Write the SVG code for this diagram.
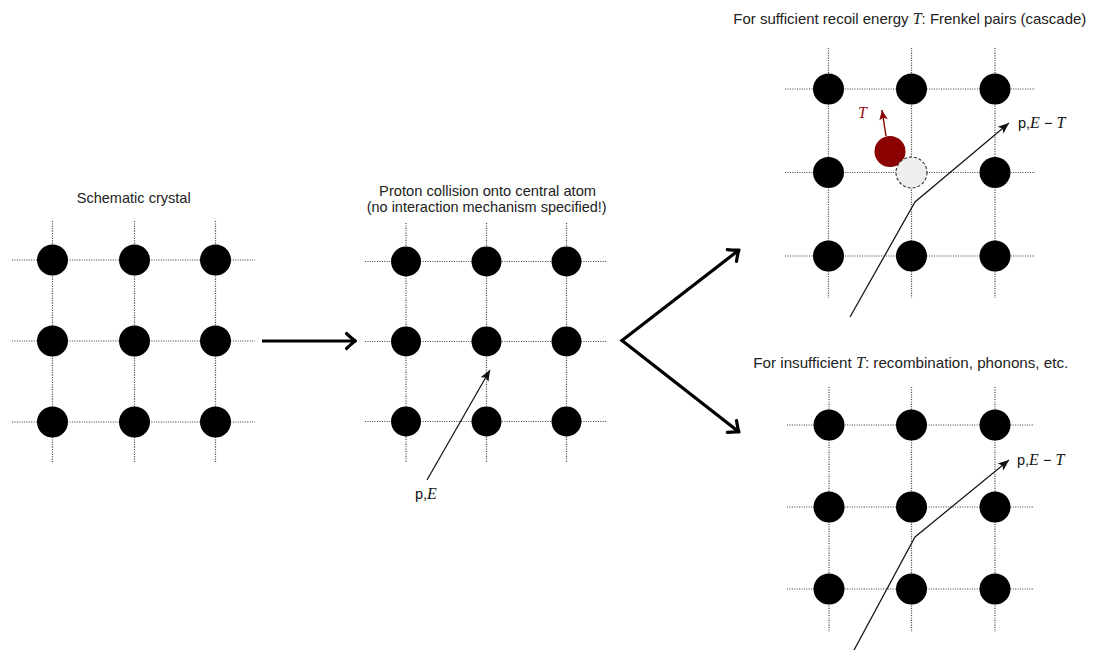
<svg xmlns="http://www.w3.org/2000/svg" width="1094" height="650" viewBox="0 0 1094 650">
  <style>
    .bg { fill: #ffffff; }
    .grid { stroke: #4a4a4a; stroke-width: 1.2; stroke-dasharray: 1.1 1.3; fill: none; }
    .atom { fill: #000000; }
    .title { font-family: "Liberation Sans", Arial, sans-serif; font-size: 15px; fill: #222222; }
    .math { font-family: "Liberation Serif", "Times New Roman", serif; font-style: italic; }
    .lbl { font-family: "Liberation Sans", Arial, sans-serif; font-size: 14.5px; fill: #111111; }
    .track { stroke: #1a1a1a; stroke-width: 1.3; fill: none; }
    .flow { stroke: #000000; stroke-width: 3.2; fill: none; stroke-linejoin: miter; }
  </style>
  <defs>
    <!-- open chevron head used by the thick process arrows -->
    <marker id="chev" markerUnits="userSpaceOnUse" viewBox="-12 -10 14 20" refX="0" refY="0" markerWidth="14" markerHeight="20" orient="auto-start-reverse" overflow="visible">
      <path d="M-9,-7.5 Q-3,-1.8 0,0 Q-3,1.8 -9,7.5" stroke="#000" stroke-width="3.2" fill="none" stroke-linecap="round" stroke-linejoin="round"/>
    </marker>
    <!-- filled head for particle tracks -->
    <marker id="tip" markerUnits="userSpaceOnUse" viewBox="-12 -6 13 12" refX="0" refY="0" markerWidth="13" markerHeight="12" orient="auto" overflow="visible">
      <path d="M-11,-4.5 L0,0 L-11,4.5 L-8.5,0 Z" fill="#111"/>
    </marker>
    <marker id="tipRed" markerUnits="userSpaceOnUse" viewBox="-10 -5 11 10" refX="0" refY="0" markerWidth="11" markerHeight="10" orient="auto" overflow="visible">
      <path d="M-10,-4.3 L0,0 L-10,4.3 L-7.5,0 Z" fill="#8b0000"/>
    </marker>
  </defs>

  <rect class="bg" x="0" y="0" width="1094" height="650"/>

  <!-- Panel 1: undisturbed lattice -->
  <g id="crystal">
    <text class="title" x="133.7" y="203" text-anchor="middle" textLength="114" lengthAdjust="spacingAndGlyphs">Schematic crystal</text>
    <g class="grid">
      <line x1="12" y1="260" x2="255" y2="260"/>
      <line x1="12" y1="341" x2="255" y2="341"/>
      <line x1="12" y1="422" x2="255" y2="422"/>
      <line x1="52.5" y1="221" x2="52.5" y2="463"/>
      <line x1="134.5" y1="221" x2="134.5" y2="463"/>
      <line x1="215.5" y1="221" x2="215.5" y2="463"/>
    </g>
    <g class="atom">
      <circle cx="52.5" cy="260" r="15.5"/><circle cx="134.5" cy="260" r="15.5"/><circle cx="215.5" cy="260" r="15.5"/>
      <circle cx="52.5" cy="341" r="15.5"/><circle cx="134.5" cy="341" r="15.5"/><circle cx="215.5" cy="341" r="15.5"/>
      <circle cx="52.5" cy="422" r="15.5"/><circle cx="134.5" cy="422" r="15.5"/><circle cx="215.5" cy="422" r="15.5"/>
    </g>
  </g>

  <!-- Panel 2: incoming proton -->
  <g id="collision">
    <text class="title" x="487.6" y="196" text-anchor="middle" textLength="217" lengthAdjust="spacingAndGlyphs">Proton collision onto central atom</text>
    <text class="title" x="486.7" y="212" text-anchor="middle" textLength="240" lengthAdjust="spacingAndGlyphs">(no interaction mechanism specified!)</text>
    <g class="grid">
      <line x1="365" y1="261.5" x2="607" y2="261.5"/>
      <line x1="365" y1="341.5" x2="607" y2="341.5"/>
      <line x1="365" y1="421.5" x2="607" y2="421.5"/>
      <line x1="406" y1="223" x2="406" y2="462"/>
      <line x1="486.5" y1="223" x2="486.5" y2="462"/>
      <line x1="566.5" y1="223" x2="566.5" y2="462"/>
    </g>
    <g class="atom">
      <circle cx="406" cy="261.5" r="15"/><circle cx="486.5" cy="261.5" r="15"/><circle cx="566.5" cy="261.5" r="15"/>
      <circle cx="406" cy="341.5" r="15"/><circle cx="486.5" cy="341.5" r="15"/><circle cx="566.5" cy="341.5" r="15"/>
      <circle cx="406" cy="421.5" r="15"/><circle cx="486.5" cy="421.5" r="15"/><circle cx="566.5" cy="421.5" r="15"/>
    </g>
    <line class="track" x1="427" y1="480" x2="490" y2="370" marker-end="url(#tip)"/>
    <text class="lbl" x="415" y="499">p,<tspan class="math" font-size="16">E</tspan></text>
  </g>

  <!-- Panel 3: recoil above threshold, Frenkel pair -->
  <g id="frenkel">
    <text class="title" x="733.3" y="24" textLength="353" lengthAdjust="spacingAndGlyphs">For sufficient recoil energy <tspan class="math" font-size="16">T</tspan>: Frenkel pairs (cascade)</text>
    <g class="grid">
      <line x1="785" y1="89" x2="1035" y2="89"/>
      <line x1="785" y1="172.5" x2="1035" y2="172.5"/>
      <line x1="785" y1="256" x2="1035" y2="256"/>
      <line x1="828.5" y1="48" x2="828.5" y2="298"/>
      <line x1="911.5" y1="48" x2="911.5" y2="298"/>
      <line x1="995" y1="48" x2="995" y2="298"/>
    </g>
    <g class="atom">
      <circle cx="828.5" cy="89" r="15.5"/><circle cx="911.5" cy="89" r="15.5"/><circle cx="995" cy="89" r="15.5"/>
      <circle cx="828.5" cy="172.5" r="15.5"/><circle cx="995" cy="172.5" r="15.5"/>
      <circle cx="828.5" cy="256" r="15.5"/><circle cx="911.5" cy="256" r="15.5"/><circle cx="995" cy="256" r="15.5"/>
    </g>
    <!-- displaced atom and its recoil -->
    <circle cx="890" cy="151.5" r="15.5" fill="#8b0000"/>
    <line x1="886" y1="136" x2="882" y2="110" stroke="#8b0000" stroke-width="1.4" marker-end="url(#tipRed)"/>
    <text x="858" y="118" font-family="Liberation Serif, serif" font-style="italic" font-size="16" fill="#9b1010">T</text>
    <!-- vacancy left behind -->
    <circle cx="911.5" cy="172.5" r="15.5" fill="#eeeeee" stroke="#333" stroke-width="1.1" stroke-dasharray="3 2"/>
    <polyline class="track" points="850,317 915,202 1009,123" marker-end="url(#tip)"/>
    <text class="lbl" x="1018" y="128">p,<tspan class="math" font-size="16">E</tspan> − <tspan class="math" font-size="16">T</tspan></text>
  </g>

  <!-- Panel 4: recoil below threshold -->
  <g id="recombination">
    <text class="title" x="753.3" y="368" textLength="315" lengthAdjust="spacingAndGlyphs">For insufficient <tspan class="math" font-size="16">T</tspan>: recombination, phonons, etc.</text>
    <g class="grid">
      <line x1="787" y1="425" x2="1033" y2="425"/>
      <line x1="787" y1="507" x2="1033" y2="507"/>
      <line x1="787" y1="589" x2="1033" y2="589"/>
      <line x1="829" y1="387" x2="829" y2="632"/>
      <line x1="911.5" y1="387" x2="911.5" y2="632"/>
      <line x1="995" y1="387" x2="995" y2="632"/>
    </g>
    <g class="atom">
      <circle cx="829" cy="425" r="15.5"/><circle cx="911.5" cy="425" r="15.5"/><circle cx="995" cy="425" r="15.5"/>
      <circle cx="829" cy="507" r="15.5"/><circle cx="911.5" cy="507" r="15.5"/><circle cx="995" cy="507" r="15.5"/>
      <circle cx="829" cy="589" r="15.5"/><circle cx="911.5" cy="589" r="15.5"/><circle cx="995" cy="589" r="15.5"/>
    </g>
    <polyline class="track" points="853,652 915,537 1009,460" marker-end="url(#tip)"/>
    <text class="lbl" x="1017" y="465">p,<tspan class="math" font-size="16">E</tspan> − <tspan class="math" font-size="16">T</tspan></text>
  </g>

  <!-- process arrows between panels -->
  <g id="connectors">
    <line class="flow" x1="262" y1="341" x2="355.5" y2="341" marker-end="url(#chev)"/>
    <polyline class="flow" points="739,250 622,340.5 739,432" marker-start="url(#chev)" marker-end="url(#chev)"/>
  </g>
</svg>
